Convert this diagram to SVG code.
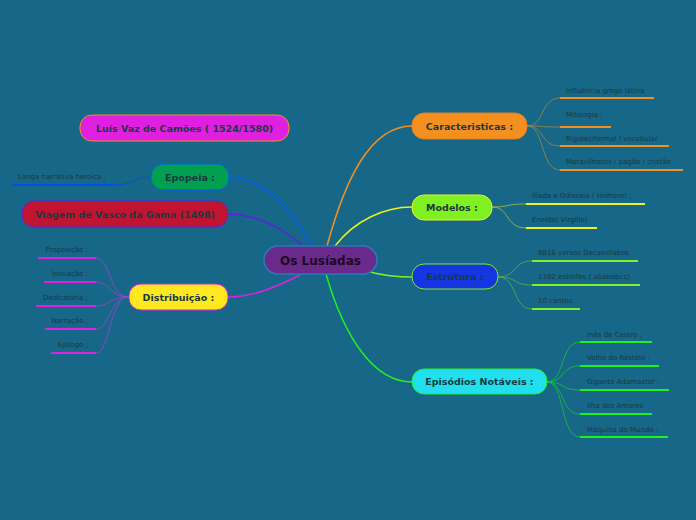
<svg xmlns="http://www.w3.org/2000/svg" width="696" height="520" viewBox="0 0 696 520">
<style>
text{font-family:"DejaVu Sans","Liberation Sans",sans-serif;fill:#173a40}
.n{font-size:9.5px;font-weight:bold;text-anchor:middle}
.l{font-size:7px}
.r{text-anchor:end}
path{fill:none}
.u{stroke-width:2}
</style>
<rect width="696" height="520" fill="#176789"/>
<g id="connectors">
<path d="M327,246 C345,180 370,126 412,126" stroke="#f39020" stroke-width="1.5"/>
<path d="M335,246 C355,220 385,207 412,207" stroke="#e8f020" stroke-width="1.5"/>
<path d="M370,272 C385,276 400,277 412,277" stroke="#80f020" stroke-width="1.5"/>
<path d="M326,274 C345,340 375,382 412,382" stroke="#20f020" stroke-width="1.5"/>
<path d="M229,177 C270,180 295,215 312,246" stroke="#0060f0" stroke-width="1.5"/>
<path d="M228,214 C260,215 285,230 303,246" stroke="#6020e0" stroke-width="1.5"/>
<path d="M228,297 C255,297 280,285 300,275" stroke="#e020e0" stroke-width="1.5"/>
<g stroke="#a08a40" stroke-width="0.8">
<path d="M527,126 C545,126 540,98 560,98"/><path d="M527,126 C545,126 540,127 560,127"/>
<path d="M527,126 C545,126 540,146 560,146"/><path d="M527,126 C545,126 540,170 560,170"/>
</g>
<g stroke="#b0c040" stroke-width="0.8">
<path d="M492,207 C510,207 505,204 526,204"/><path d="M492,207 C510,207 505,228 526,228"/>
</g>
<g stroke="#60b040" stroke-width="0.8">
<path d="M498,277 C518,277 512,261 532,261"/><path d="M498,277 C518,277 512,285 532,285"/><path d="M498,277 C518,277 512,309 532,309"/>
</g>
<g stroke="#20c040" stroke-width="0.8">
<path d="M547,382 C565,382 560,342 580,342"/><path d="M547,382 C565,382 560,366 580,366"/><path d="M547,382 C565,382 560,390 580,390"/>
<path d="M547,382 C565,382 560,414 580,414"/><path d="M547,382 C565,382 560,437 580,437"/>
</g>
<path d="M151,177 C135,177 130,185 117,185" stroke="#0050d0" stroke-width="0.8"/>
<g stroke="#a040d0" stroke-width="0.8">
<path d="M128,297 C110,297 110,258 96,258"/><path d="M128,297 C110,297 110,282 96,282"/><path d="M128,297 C110,297 110,306 96,306"/>
<path d="M128,297 C110,297 110,329 96,329"/><path d="M128,297 C110,297 110,353 96,353"/>
</g>
<g class="u">
<path d="M560,98H654M560,127H611M560,146H669M560,170H683" stroke="#f39020"/>
<path d="M526,204H645M526,228H597" stroke="#f0f020"/>
<path d="M532,261H638M532,285H640M532,309H580" stroke="#80f020"/>
<path d="M580,342H652M580,366H659M580,390H669M580,414H652M580,437H668" stroke="#20f020"/>
<path d="M12,185H117" stroke="#0050f0"/>
<path d="M38,258H96M44,282H96M36,306H96M45,329H96M51,353H96" stroke="#e020e0"/>
</g>
</g>
<g id="central"><rect x="264" y="246" width="113" height="28" rx="14" fill="#6a2a8c" stroke="#2a7ab8" stroke-width="1.5"/><text class="n" x="320.5" y="264.5" style="font-size:12px;fill:#1a0a25">Os Lusíadas</text></g>
<g id="caracteristicas"><rect x="412" y="113" width="115" height="26" rx="12" fill="#f39020" stroke="#e08020"/><text class="n" x="469.5" y="130">Caracteristicas :</text></g>
<g id="modelos"><rect x="412" y="195" width="80" height="25" rx="12" fill="#80f020" stroke="#f0f020"/><text class="n" x="452" y="211">Modelos :</text></g>
<g id="estrutura"><rect x="412" y="264" width="86" height="25" rx="12" fill="#1535e0" stroke="#80f020"/><text class="n" x="455" y="280">Estrutura :</text></g>
<g id="episodios"><rect x="412" y="369" width="135" height="25" rx="12" fill="#20e0f0" stroke="#20f020"/><text class="n" x="479.5" y="385">Episódios Notáveis :</text></g>
<g id="luis"><rect x="80" y="115" width="209" height="26" rx="12" fill="#e020e0" stroke="#f39020"/><text class="n" x="184.5" y="132">Luís Vaz de Camões ( 1524/1580)</text></g>
<g id="epopeia"><rect x="151" y="164" width="78" height="26" rx="12" fill="#00a050" stroke="#0060f0"/><text class="n" x="190" y="181">Epopeia :</text></g>
<g id="viagem"><rect x="22" y="201" width="206" height="26" rx="12" fill="#c01530" stroke="#6020e0"/><text class="n" x="125" y="218">Viagem de Vasco da Gama (1498)</text></g>
<g id="distribuicao"><rect x="129" y="284" width="99" height="26" rx="12" fill="#ffe820" stroke="#e020e0"/><text class="n" x="178.5" y="301">Distribuição :</text></g>
<g id="leaves">
<text class="l" x="566" y="93">Influência grego latina</text>
<text class="l" x="566" y="117">Mitologia ;</text>
<text class="l" x="566" y="141">Rigidez/formal / vocabular</text>
<text class="l" x="566" y="164">Maravilhosos / pagão / cristão</text>
<text class="l" x="532" y="198">Ilíada e Odisseia ( Homero) ;</text>
<text class="l" x="532" y="222">Eneida( Virgílio)</text>
<text class="l" x="538" y="255">8816 versos Decassílabos</text>
<text class="l" x="538" y="279">1102 estrofes ( abababcc)</text>
<text class="l" x="538" y="303">10 cantos</text>
<text class="l" x="587" y="337">Inês de Castro ;</text>
<text class="l" x="587" y="360">Velho do Restelo ;</text>
<text class="l" x="587" y="384">Gigante Adamastor ;</text>
<text class="l" x="587" y="408">Ilha dos Amores</text>
<text class="l" x="587" y="432">Máquina do Mundo ;</text>
<text class="l" x="18" y="179">Longa narrativa heroica ;</text>
<text class="l r" x="88" y="252">Proposição ;</text>
<text class="l r" x="88" y="276">Inovação ;</text>
<text class="l r" x="88" y="300">Dedicatória ;</text>
<text class="l r" x="88" y="323">Narração ;</text>
<text class="l r" x="88" y="347">Epílogo ;</text>
</g>
</svg>
